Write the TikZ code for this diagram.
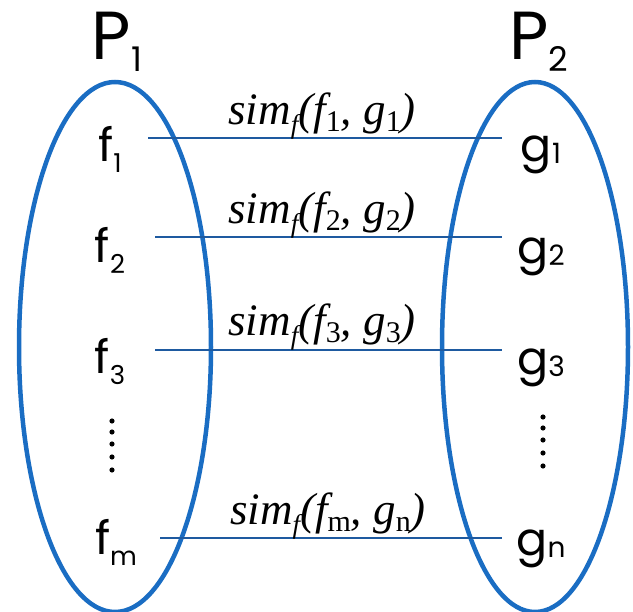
\documentclass[tikz,border=0pt]{standalone}
\usepackage{fontspec}
\setmainfont{Poppins}
\newfontfamily\tms{Liberation Serif}
\definecolor{ellblue}{HTML}{1A6DC3}
\definecolor{linblue}{HTML}{1E5AA0}
\newcommand\simlab[2]{{\tms\fontsize{45}{50}\selectfont\itshape sim\raisebox{-0.4ex}{\fontsize{27}{30}\selectfont f}(f\raisebox{-0.3ex}{\upshape\fontsize{30}{34}\selectfont #1}, g\raisebox{-0.3ex}{\upshape\fontsize{30}{34}\selectfont #2})}}
\newcommand\lab[2]{\fontsize{46}{52}\selectfont #1\raisebox{-0.4ex}{\fontsize{26}{30}\selectfont #2}}
\newcommand\glab[2]{\fontsize{46}{52}\selectfont #1\raisebox{-0.05ex}{\fontsize{28}{32}\selectfont #2}}
\begin{document}
\begin{tikzpicture}[x=1pt,y=-1pt,
  ell/.style={draw=ellblue,line width=4.5pt},
  conn/.style={draw=linblue,line width=1.5pt},
  setlab/.style={anchor=base,inner sep=0pt},
  simnode/.style={anchor=base,inner sep=0pt},
  dotmark/.style={fill=black,draw=none}]
\useasboundingbox (0,0) rectangle (633,612);
\draw[ell] (115,347) ellipse [x radius=96, y radius=265];
\draw[ell] (535,347) ellipse [x radius=93, y radius=265];
% titles
\node[setlab] (P1) at (117,60) {\fontsize{68}{76}\selectfont P\raisebox{-0.3ex}{\fontsize{34}{38}\selectfont 1}};
\node[setlab] (P2) at (539,60) {\fontsize{68}{76}\selectfont P\raisebox{-0.3ex}{\fontsize{34}{38}\selectfont 2}};
% left items
\node[setlab] (f1) at (110,162) {\lab{f}{1}};
\node[setlab] (f2) at (110,263) {\lab{f}{2}};
\node[setlab] (f3) at (110,374) {\lab{f}{3}};
\node[setlab] (fm) at (116,555) {\lab{f}{m}};
% right items
\node[setlab] (g1) at (541,162) {\glab{g}{1}};
\node[setlab] (g2) at (541,264) {\glab{g}{2}};
\node[setlab] (g3) at (541,375) {\glab{g}{3}};
\node[setlab] (gn) at (541,556) {\glab{g}{n}};
% dots
\foreach \yy in {421,432,444,457,470} {
  \fill[dotmark] (112,\yy) circle (2.6pt);
  \fill[dotmark] (543,\yy-4) circle (2.6pt);
}
% connector ends
\coordinate (a1) at (148,138); \coordinate (b1) at (502,138);
\coordinate (a2) at (155,237); \coordinate (b2) at (502,237);
\coordinate (a3) at (155,350); \coordinate (b3) at (502,350);
\coordinate (a4) at (160,538); \coordinate (b4) at (502,538);
\draw[conn] (a1) -- (b1);
\draw[conn] (a2) -- (b2);
\draw[conn] (a3) -- (b3);
\draw[conn] (a4) -- (b4);
\node[simnode] (s1) at (322,125) {\simlab{1}{1}};
\node[simnode] (s2) at (322,224) {\simlab{2}{2}};
\node[simnode] (s3) at (322,336) {\simlab{3}{3}};
\node[simnode] (s4) at (328,525) {\simlab{m}{n}};
\end{tikzpicture}
\end{document}
